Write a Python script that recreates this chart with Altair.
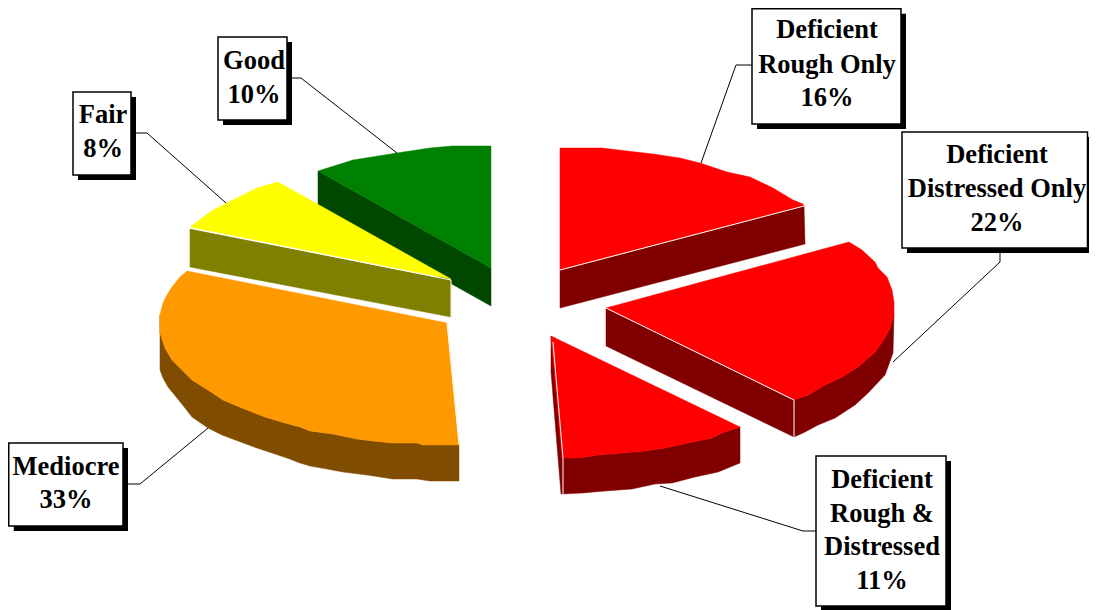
import altair as alt
import pandas as pd

W, H = 1081, 602
xs = alt.Scale(domain=[8, 8 + W], nice=False, zero=False)
ys = alt.Scale(domain=[8 + H, 8], nice=False, zero=False)
FONT = "Liberation Serif"
FONT_SIZE = 26.5

# outlines
ORANGE_ARC = [(160,315),(160,333),(165,348),(172,360),(182,370),(192,380),(208,390),(223,400),(242,408),(265,417),(285,423),(300,427),(310,431),(333,434),(357,439),(373,441),(393,443),(417,443),(423,445),(459,445)]
ORANGE_BOTTOM = [(459,481),(430,481),(417,479),(393,479),(367,475),(343,472),(327,469),(310,466),(300,463),(287,458),(257,448),(222,435),(208,428),(192,417),(185,408),(177,398),(168,387),(163,378),(160,370)]
ORANGE_CORNER = [(187,271),(447,323)]
ORANGE_BACK = [(163,303),(167,295),(172,287),(180,277)]
RED2_ARC = [(894,315),(890,328),(885,338),(875,352),(858,367),(842,377),(825,385),(808,395),(794,400)]
RED2_BOTTOM = [(794,437),(805,432),(818,425),(835,418),(855,405),(868,393),(885,375),(893,353)]
RED2_BACK = [(606,308),(849,242),(862,250),(875,262),(878,268),(887,277),(892,290),(894,302)]
RED3_ARC = [(740,427),(722,433),(712,438),(688,443),(665,448),(645,451),(622,453),(598,455),(578,458),(562,458)]
RED3_BOTTOM = [(562,494),(582,493),(605,491),(632,489),(655,484),(672,483),(695,477),(718,472),(740,463)]

GREEN_SIDE = [(318,171),(491,268),(491,306),(318,209)]
GREEN_TOP = [(318,171),(353,160),(397,153),(430,148),(452,146),(491,146),(491,268)]
YELLOW_SIDE = [(190,229),(451,280),(451,317),(190,267)]
YELLOW_TOP = [(190,227),(213,210),(237,198),(257,188),(278,182),(451,279)]
ORANGE_SIDE = ORANGE_ARC + ORANGE_BOTTOM
ORANGE_TOP = ORANGE_CORNER + ORANGE_ARC[::-1] + ORANGE_BACK
RED1_SIDE = [(560,270),(804,206),(805,244),(560,308)]
RED1_TOP = [(560,148),(602,148),(627,151),(653,154),(680,158),(700,163),(727,172),(750,177),(773,188),(793,200),(803,204),(804,206),(560,270)]
RED2_SIDE_A = [(606,308),(794,400),(794,437),(606,346)]
RED2_SIDE_B = RED2_ARC + RED2_BOTTOM
RED2_TOP = RED2_BACK + RED2_ARC
RED3_SLIVER = [(551,336),(563,458),(562,494),(561,494),(551,372)]
RED3_SIDE = RED3_ARC + RED3_BOTTOM
RED3_TOP = [(551,336)] + RED3_ARC

SHAPES = [
    ("#004800", GREEN_SIDE), ("#008000", GREEN_TOP),
    ("#808000", YELLOW_SIDE), ("#ffff00", YELLOW_TOP),
    ("#804d00", ORANGE_SIDE), ("#ff9900", ORANGE_TOP),
    ("#800000", RED1_SIDE), ("#ff0000", RED1_TOP),
    ("#800000", RED2_SIDE_A), ("#800000", RED2_SIDE_B), ("#ff0000", RED2_TOP),
    ("#800000", RED3_SLIVER), ("#800000", RED3_SIDE), ("#ff0000", RED3_TOP),
]

# thin white seams between the faces
SEAMS = [
    [(190,228),(451,280)],
    [(451,280),(451,317)],
    [(560,270),(804,206)],
    [(606,308),(794,400)],
    [(794,400),(794,437)],
    [(553,342),(563,458),(563,494)],
    [(447,323),(459,444)],
]

LEADERS = [
    [(292,78),(301,78),(397,153)],
    [(136,133),(147,133),(226,203)],
    [(128,484),(140,484),(208,428)],
    [(752,65),(736,65),(701,163)],
    [(1000,253),(1000,262),(893,362)],
    [(816,531),(803,531),(660,486)],
]

# label boxes: left, right, top, bottom
BOXES = [
    (218,287,37,120),
    (73,131,92,175),
    (8.75,123,443,526),
    (752,901,8.75,124),
    (902,1087.5,132,248),
    (816,946,456,606),
]
SHADOW = 5

LABELS = [
    (254, [("Good",69),("10%",103)]),
    (103, [("Fair",123),("8%",157)]),
    (66, [("Mediocre",475),("33%",508)]),
    (827, [("Deficient",38),("Rough Only",73),("16%",106)]),
    (997, [("Deficient",163),("Distressed Only",197),("22%",231)]),
    (882, [("Deficient",488),("Rough &",522),("Distressed",555),("11%",589)]),
]


def path_df(points):
    return pd.DataFrame({"x": [p[0] for p in points], "y": [p[1] for p in points], "i": range(len(points))})


def enc(ch):
    return ch.encode(
        x=alt.X("x:Q", scale=xs, axis=None),
        y=alt.Y("y:Q", scale=ys, axis=None),
        order="i:Q",
    )


layers = []
for color, pts in SHAPES:
    closed = pts + [pts[0]]
    layers.append(enc(alt.Chart(path_df(closed)).mark_line(filled=True, fill=color, stroke=color, strokeWidth=0.5)))

for pts in SEAMS:
    layers.append(enc(alt.Chart(path_df(pts)).mark_line(stroke="white", strokeWidth=1)))

for pts in LEADERS:
    layers.append(enc(alt.Chart(path_df(pts)).mark_line(stroke="black", strokeWidth=1)))

box_df = pd.DataFrame(BOXES, columns=["l", "r", "t", "b"])
box_df["ls"] = box_df.l + SHADOW
box_df["rs"] = box_df.r + SHADOW
box_df["ts"] = box_df.t + SHADOW
box_df["bs"] = box_df.b + SHADOW

layers.append(alt.Chart(box_df).mark_rect(fill="black").encode(
    x=alt.X("ls:Q", scale=xs, axis=None), x2="rs:Q",
    y=alt.Y("ts:Q", scale=ys, axis=None), y2="bs:Q"))
layers.append(alt.Chart(box_df).mark_rect(fill="white", stroke="black", strokeWidth=1.5).encode(
    x=alt.X("l:Q", scale=xs, axis=None), x2="r:Q",
    y=alt.Y("t:Q", scale=ys, axis=None), y2="b:Q"))

rows = [{"x": cx, "y": y, "t": t} for cx, lines in LABELS for t, y in lines]
layers.append(alt.Chart(pd.DataFrame(rows)).mark_text(
    font=FONT, fontSize=FONT_SIZE, fontWeight="bold", color="black",
    align="center", baseline="alphabetic").encode(
    x=alt.X("x:Q", scale=xs, axis=None),
    y=alt.Y("y:Q", scale=ys, axis=None),
    text="t:N"))

chart = alt.layer(*layers).properties(
    width=W, height=H, padding=0,
    autosize=alt.AutoSizeParams(type="none"),
    background="white",
).configure_view(stroke=None)

chart.save("out.html", embed_options={"renderer": "svg", "actions": False})
